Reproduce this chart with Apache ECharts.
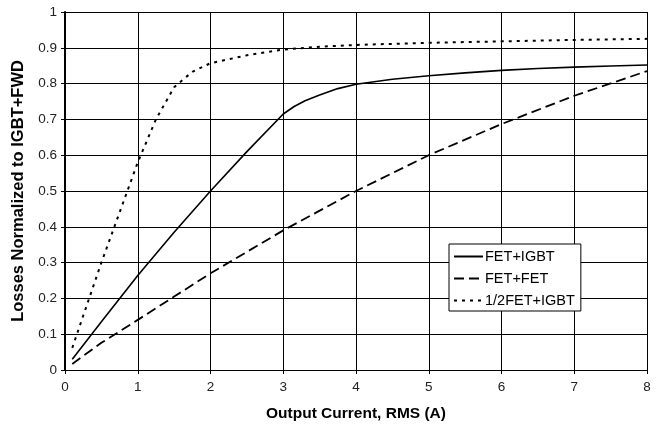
<!DOCTYPE html>
<html>
<head>
<meta charset="utf-8">
<script src="https://cdn.jsdelivr.net/npm/echarts@6/dist/echarts.min.js"></script>
<style>
  html, body { margin: 0; padding: 0; background: #fff; }
  #chart { width: 660px; height: 427px; }
</style>
</head>
<body>
<div id="chart"></div>
<script>
// FET+IGBT (solid)
const fetIgbtX = [0.1, 0.5, 1, 1.5, 2, 2.5, 3, 3.15, 3.3, 3.5, 3.75, 4, 4.5, 5, 5.5, 6, 6.5, 7, 7.5, 8];
const fetIgbtY = [0.03, 0.135, 0.264, 0.385, 0.5, 0.61, 0.715, 0.736, 0.752, 0.768, 0.786, 0.798, 0.812, 0.822, 0.83, 0.837, 0.842, 0.846, 0.849, 0.852];

// FET+FET (dashed)
const fetFetX = [0.1, 0.5, 1, 1.5, 2, 2.5, 3, 4, 5, 6, 7, 8];
const fetFetY = [0.017, 0.076, 0.14, 0.205, 0.27, 0.33, 0.39, 0.5, 0.6, 0.687, 0.766, 0.835];

// 1/2FET+IGBT (dotted)
const halfFetX = [0.1, 0.5, 1, 1.25, 1.5, 1.75, 2, 2.5, 3, 3.5, 4, 5, 6, 7, 8];
const halfFetY = [0.062, 0.3, 0.58, 0.7, 0.79, 0.833, 0.857, 0.879, 0.895, 0.903, 0.908, 0.914, 0.918, 0.922, 0.925];

const seriesNames = ['FET+IGBT', 'FET+FET', '1/2FET+IGBT'];
const lineTypes = ['solid', [10, 5], [3, 5]];

function pairs(xs, ys) {
  return xs.map((x, i) => [x, ys[i]]);
}

const chart = echarts.init(document.getElementById('chart'));
const font = 'Liberation Sans, Arial, sans-serif';

const option = {
  animation: false,
  backgroundColor: '#fff',
  grid: { left: 65, right: 13, top: 12, bottom: 55 },
  xAxis: {
    type: 'value',
    min: 0, max: 8, interval: 1,
    name: 'Output Current, RMS (A)',
    nameLocation: 'middle',
    nameGap: 36,
    nameTextStyle: { fontFamily: font, fontSize: 15.5, fontWeight: 'bold', color: '#000' },
    axisLine: { lineStyle: { color: '#000', width: 1 } },
    axisTick: { show: true, length: 4, lineStyle: { color: '#000' } },
    axisLabel: { fontFamily: font, fontSize: 13.5, color: '#222', margin: 10 },
    splitLine: { show: true, lineStyle: { color: '#000', width: 1 } }
  },
  yAxis: {
    type: 'value',
    min: 0, max: 1, interval: 0.1,
    name: 'Losses Normalized to IGBT+FWD',
    nameLocation: 'middle',
    nameGap: 36,
    nameTextStyle: { fontFamily: font, fontSize: 16.5, fontWeight: 'bold', color: '#000' },
    axisLine: { show: true, lineStyle: { color: '#000', width: 2 } },
    axisTick: { show: true, length: 4, lineStyle: { color: '#000' } },
    axisLabel: { fontFamily: font, fontSize: 13.5, color: '#222', margin: 8 },
    splitLine: { show: true, lineStyle: { color: '#000', width: 1 } }
  },
  legend: {
    orient: 'vertical',
    left: 449, top: 244,
    data: seriesNames.map((n, i) => ({
      name: n,
      lineStyle: { type: lineTypes[i], color: '#000', width: 2 }
    })),
    itemWidth: 29, itemHeight: 14, itemGap: 7,
    padding: [5, 6, 3, 4],
    backgroundColor: '#fff',
    borderColor: '#000', borderWidth: 1,
    itemStyle: { opacity: 0 },
    textStyle: { fontFamily: font, fontSize: 14.5, color: '#000', padding: [0, 0, 0, -3] }
  },
  series: [
    {
      name: seriesNames[0], type: 'line', symbol: 'none',
      data: pairs(fetIgbtX, fetIgbtY),
      lineStyle: { color: '#000', width: 1.6, type: lineTypes[0] },
      itemStyle: { color: '#000' }
    },
    {
      name: seriesNames[1], type: 'line', symbol: 'none',
      data: pairs(fetFetX, fetFetY),
      lineStyle: { color: '#000', width: 1.8, type: lineTypes[1] },
      itemStyle: { color: '#000' }
    },
    {
      name: seriesNames[2], type: 'line', symbol: 'none',
      data: pairs(halfFetX, halfFetY),
      lineStyle: { color: '#000', width: 2, type: lineTypes[2] },
      itemStyle: { color: '#000' }
    }
  ]
};

chart.setOption(option);
</script>
</body>
</html>
